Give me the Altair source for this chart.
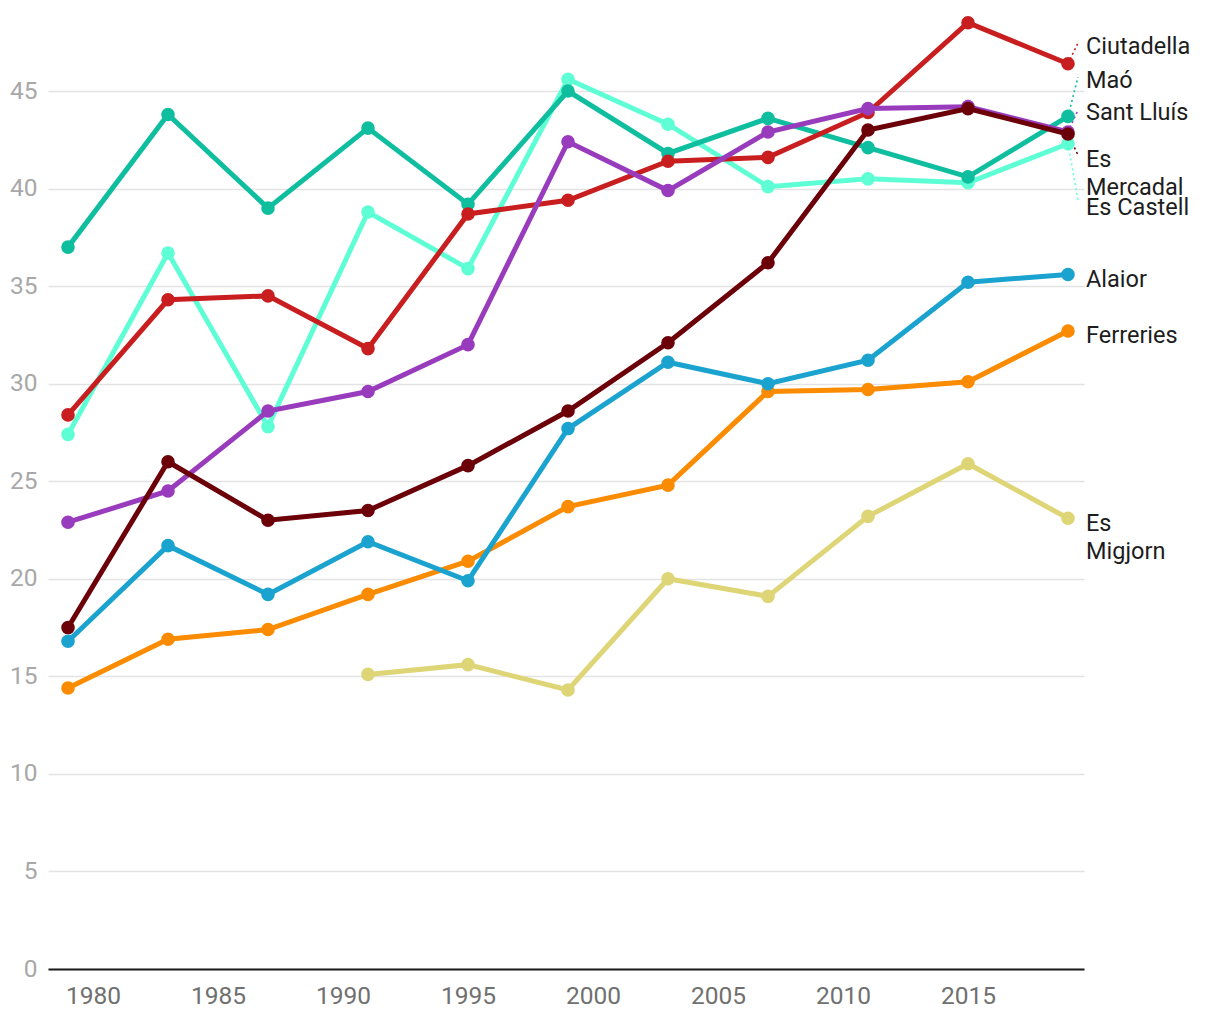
import altair as alt
import pandas as pd

years = [1979, 1983, 1987, 1991, 1995, 1999, 2003, 2007, 2011, 2015, 2019]

alaior = [16.8, 21.7, 19.2, 21.9, 19.9, 27.7, 31.1, 30.0, 31.2, 35.2, 35.6]
ferreries = [14.4, 16.9, 17.4, 19.2, 20.9, 23.7, 24.8, 29.6, 29.7, 30.1, 32.7]
es_migjorn = [None, None, None, 15.1, 15.6, 14.3, 20.0, 19.1, 23.2, 25.9, 23.1]
es_castell = [27.4, 36.7, 27.8, 38.8, 35.9, 45.6, 43.3, 40.1, 40.5, 40.3, 42.3]
mao = [37.0, 43.8, 39.0, 43.1, 39.2, 45.0, 41.8, 43.6, 42.1, 40.6, 43.7]
ciutadella = [28.4, 34.3, 34.5, 31.8, 38.7, 39.4, 41.4, 41.6, 43.9, 48.5, 46.4]
sant_lluis = [22.9, 24.5, 28.6, 29.6, 32.0, 42.4, 39.9, 42.9, 44.1, 44.2, 42.9]
es_mercadal = [17.5, 26.0, 23.0, 23.5, 25.8, 28.6, 32.1, 36.2, 43.0, 44.1, 42.8]

# drawing order (last on top)
series = [
    ("Es Migjorn", "Es\nMigjorn", es_migjorn, "#ded577"),
    ("Ferreries", "Ferreries", ferreries, "#fb8b00"),
    ("Alaior", "Alaior", alaior, "#1ba3d0"),
    ("Es Castell", "Es Castell", es_castell, "#5fffd6"),
    ("Maó", "Maó", mao, "#0fbe9f"),
    ("Ciutadella", "Ciutadella", ciutadella, "#c91e1f"),
    ("Sant Lluís", "Sant Lluís", sant_lluis, "#993bbd"),
    ("Es Mercadal", "Es\nMercadal", es_mercadal, "#6c0009"),
]

# where each end label's first line sits (value axis units) and where its leader line ends
label_pos = {
    "Ciutadella": 47.26, "Maó": 45.51, "Sant Lluís": 43.87, "Es Mercadal": 41.47,
    "Es Castell": 39.0, "Alaior": 35.31, "Ferreries": 32.44, "Es Migjorn": 22.81,
}
leader_end = {
    "Ciutadella": 47.46, "Maó": 45.72, "Sant Lluís": 44.03,
    "Es Mercadal": 41.72, "Es Castell": 39.42,
}

FONT = "Roboto"
W, H = 1036, 956
xscale = alt.Scale(domain=[1978.2, 2019.64], nice=False, zero=False)
yscale = alt.Scale(domain=[0, 49], nice=False)

layers = []
base_df = pd.DataFrame({"year": years, "v": mao})
axis_layer = alt.Chart(base_df).mark_point(opacity=0).encode(
    x=alt.X("year:Q", scale=xscale,
            axis=alt.Axis(title=None, values=[1980, 1985, 1990, 1995, 2000, 2005, 2010, 2015],
                          format="d", grid=False, ticks=False, domain=True,
                          domainColor="#1a1a1a", domainWidth=2, labelFont=FONT,
                          labelFontSize=24.5, labelColor="#707070", labelPadding=15)),
    y=alt.Y("v:Q", scale=yscale,
            axis=alt.Axis(title=None, values=[0, 5, 10, 15, 20, 25, 30, 35, 40, 45],
                          grid=True, gridColor="#e3e3e3", gridWidth=1.5, ticks=False,
                          domain=False, labelFont=FONT, labelFontSize=24.5,
                          labelColor="#a8a8a8", labelPadding=11)),
)
layers.append(axis_layer)

leader_rows = []
label_rows = []
for name, label, vals, color in series:
    df = pd.DataFrame({"year": years, "v": vals}).dropna()
    line = alt.Chart(df).mark_line(strokeWidth=5, color=color).encode(
        x=alt.X("year:Q", scale=xscale), y=alt.Y("v:Q", scale=yscale))
    pts = alt.Chart(df).mark_circle(size=185, opacity=1, color=color).encode(
        x=alt.X("year:Q", scale=xscale), y=alt.Y("v:Q", scale=yscale))
    layers += [line, pts]
    last = df.iloc[-1]
    label_rows.append({"name": name, "label": label, "year": float(last["year"]),
                       "ly": label_pos[name]})
    if name in leader_end:
        leader_rows.append({"name": name, "color": color, "year": float(last["year"]),
                            "v": float(last["v"]), "x2": float(last["year"]) + 0.4,
                            "y2": leader_end[name]})

leaders = alt.Chart(pd.DataFrame(leader_rows)).mark_rule(
    strokeWidth=1.6, strokeDash=[2, 3]).encode(
    x=alt.X("year:Q", scale=xscale), y=alt.Y("v:Q", scale=yscale),
    x2="x2:Q", y2="y2:Q",
    color=alt.Color("color:N", scale=None, legend=None))

labels = alt.Chart(pd.DataFrame(label_rows)).mark_text(
    align="left", baseline="middle", dx=18, font=FONT, fontSize=23.5,
    color="#1d1d1d", lineBreak="\n", lineHeight=28).encode(
    x=alt.X("year:Q", scale=xscale), y=alt.Y("ly:Q", scale=yscale),
    text="label:N")

chart = alt.layer(*([layers[0], leaders] + layers[1:] + [labels])).properties(
    width=W, height=H,
    background="white",
    autosize=alt.AutoSizeParams(type="none"),
    padding={"left": 40, "top": 5, "right": 128, "bottom": 45},
).configure_view(stroke="transparent", strokeWidth=0)

chart.save("out.html", embed_options={"renderer": "svg", "actions": False})
